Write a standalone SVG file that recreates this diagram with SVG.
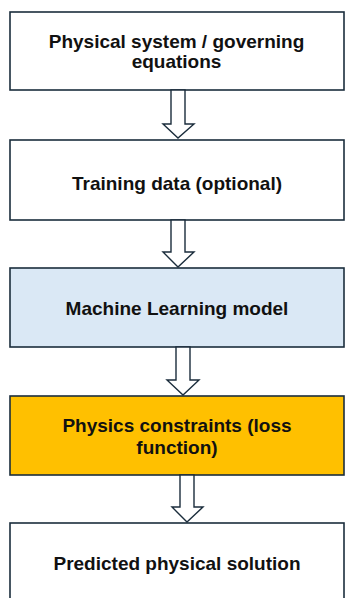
<svg xmlns="http://www.w3.org/2000/svg" width="345" height="598" viewBox="0 0 345 598">
<style>
.box{stroke:#1b2d3c;stroke-width:1.6}
.lbl{font-family:"Liberation Sans",Arial,sans-serif;font-weight:bold;font-size:19px;fill:#111;text-anchor:middle}
.arr{fill:#fff;stroke:#1b2d3c;stroke-width:1.4;stroke-linejoin:miter}
</style>
<rect width="345" height="598" fill="#fff"/>
<g id="n1"><rect class="box" x="10" y="12" width="334" height="78" fill="#fff"/><text class="lbl" x="176.5" y="48">Physical system / governing</text><text class="lbl" x="176.5" y="68">equations</text></g>
<g id="n2"><rect class="box" x="10" y="140" width="334" height="80" fill="#fff"/><text class="lbl" x="177" y="190">Training data (optional)</text></g>
<g id="n3"><rect class="box" x="10" y="268" width="334" height="79" fill="#dae8f5"/><text class="lbl" x="177" y="315">Machine Learning model</text></g>
<g id="n4"><rect class="box" x="10" y="396" width="334" height="79" fill="#ffc000"/><text class="lbl" x="177" y="432">Physics constraints (loss</text><text class="lbl" x="177" y="454">function)</text></g>
<g id="n5"><rect class="box" x="10" y="523" width="334" height="90" fill="#fff"/><text class="lbl" x="177" y="570">Predicted physical solution</text></g>
<g id="connectors">
<path class="arr" d="M171,90 V124 H163 L178,138 L194,124 H185 V90 Z"/>
<path class="arr" d="M171,220 V252 H163 L178,267 L194,252 H185 V220 Z"/>
<path class="arr" d="M176,347 V380 H167 L183,395 L199,380 H190 V347 Z"/>
<path class="arr" d="M180,475 V507 H172 L187,522 L203,507 H194 V475 Z"/>
</g>
</svg>
